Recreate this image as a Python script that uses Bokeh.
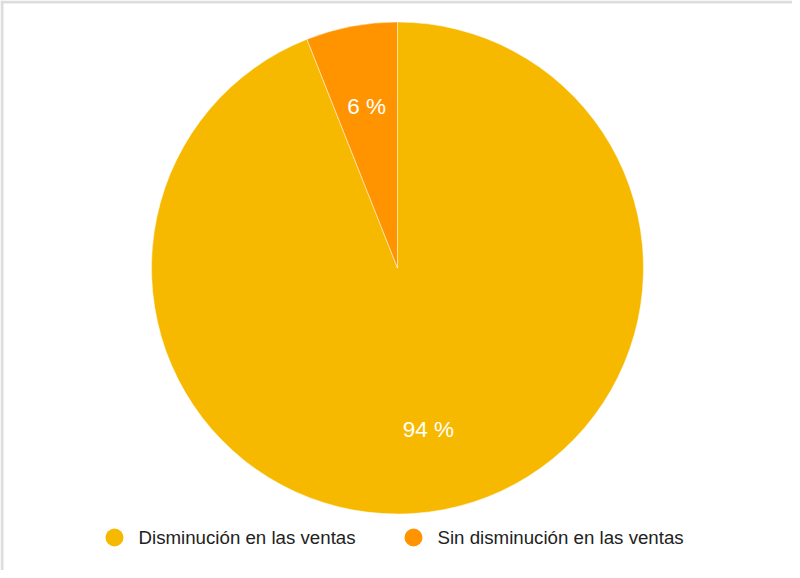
import math
from bokeh.plotting import figure
from bokeh.models import Range1d, ColumnDataSource, Span
from bokeh.core.properties import value
from bokeh.embed import file_html
from bokeh.resources import INLINE

# ---- data ----
categories = ["Disminución en las ventas", "Sin disminución en las ventas"]
percents = [94, 6]
colors = ["#F7B900", "#FF9400"]
pct_labels = ["94 %", "6 %"]

W, H = 792, 570
p = figure(width=W, height=H, output_backend="svg", toolbar_location=None,
           x_range=Range1d(0, W), y_range=Range1d(0, H), min_border=0)
p.axis.visible = False
p.grid.visible = False
p.outline_line_color = None
p.background_fill_color = "white"
p.border_fill_color = "white"

cx, cy, R = 397, 302.5, 246
total = sum(percents)
starts, ends, lx, ly = [], [], [], []
acc = 0.0
for v in percents:
    a0 = math.pi / 2 - acc / total * 2 * math.pi
    acc += v
    a1 = math.pi / 2 - acc / total * 2 * math.pi
    starts.append(a0)
    ends.append(a1)
    mid = (a0 + a1) / 2
    lx.append(cx + 0.67 * R * math.cos(mid))
    ly.append(cy + 0.67 * R * math.sin(mid))

src = ColumnDataSource(dict(start=starts, end=ends, color=colors, lx=lx, ly=ly,
                            lab=pct_labels, cat=categories))
p.wedge(x=cx, y=cy, radius=R, start_angle="start", end_angle="end",
        direction="clock", fill_color="color", line_color="white",
        line_width=0.6, line_alpha=0.8, source=src)
p.text(x="lx", y="ly", text="lab", source=src, text_color="white",
       text_font=value("Liberation Sans"), text_font_size="22.5px",
       text_align="center", text_baseline="middle")

# legend (manual, circles)
leg_x = [114, 413]
leg_y = [33, 33]
lsrc = ColumnDataSource(dict(x=leg_x, y=leg_y, tx=[x + 24 for x in leg_x],
                             color=colors, cat=categories))
p.scatter(x="x", y="y", size=18, marker="circle", fill_color="color",
          line_color=None, source=lsrc)
p.text(x="tx", y="y", text="cat", source=lsrc, text_color="#222222",
       text_font=value("Liberation Sans"), text_font_size="18.7px",
       text_align="left", text_baseline="middle")

# light gray frame lines (left and top)
p.add_layout(Span(location=1.5, dimension="height", line_color="#dddddd", line_width=3))
p.add_layout(Span(location=H - 1.5, dimension="width", line_color="#dddddd", line_width=3))

open("out.html", "w").write(file_html(p, INLINE))
